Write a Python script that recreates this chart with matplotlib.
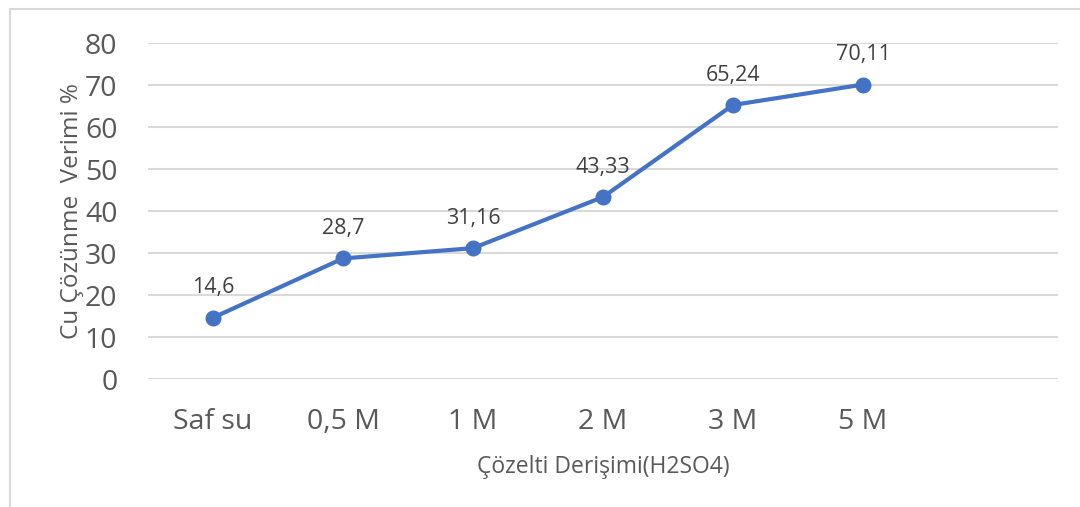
import matplotlib
matplotlib.use('Agg')
import matplotlib.pyplot as plt
from matplotlib.patches import Rectangle

plt.rcParams['font.family'] = ['Open Sans', 'DejaVu Sans']

# concentration categories and copper dissolution yield (%)
categories = ['Saf su', '0,5 M', '1 M', '2 M', '3 M', '5 M']
yields = [14.6, 28.7, 31.16, 43.33, 65.24, 70.11]
value_labels = ['14,6', '28,7', '31,16', '43,33', '65,24', '70,11']
yticks = [0, 10, 20, 30, 40, 50, 60, 70, 80]

fig = plt.figure(figsize=(10.8, 5.07), dpi=100)
ax = fig.add_axes([148/1080, 128/507, 910/1080, 336/507])

# outer chart frame (light gray), only top and left edges fall inside the image
fig.patches.append(Rectangle((10/1080, -0.2), 1.2, 0.2 + 498/507, transform=fig.transFigure,
                             fill=False, edgecolor='#d9d9d9', linewidth=1.5))

x = list(range(len(categories)))
ax.plot(x, yields, color='#4472C4', linewidth=3, marker='o', markersize=10.5,
        solid_capstyle='round', zorder=3)

for xi, yi, lab in zip(x, yields, value_labels):
    ax.annotate(lab, (xi, yi), xytext=(0, 14), textcoords='offset points',
                ha='center', va='bottom', fontsize=15.5, color='#404040')

ax.set_xlim(-0.5, len(categories) + 0.5)
ax.set_ylim(0, 80)
ax.set_yticks(yticks)
ax.set_xticks(x)
ax.set_xticklabels(categories)
ax.grid(axis='y', color='#d9d9d9', linewidth=1.5)
ax.set_axisbelow(True)
for s in ['top', 'right', 'left', 'bottom']:
    ax.spines[s].set_visible(False)
ax.tick_params(axis='both', length=0, labelsize=20.5, labelcolor='#595959')
ax.tick_params(axis='y', pad=22)
ax.tick_params(axis='x', pad=21)

ax.set_ylabel('Cu Çözünme  Verimi %', fontsize=17.5, color='#595959', labelpad=1)
fig.text(603/1080, 1 - 467/507, 'Çözelti Derişimi(H2SO4)', ha='center', va='center',
         fontsize=16.5, color='#595959')

fig.savefig('out.png', dpi=100)
